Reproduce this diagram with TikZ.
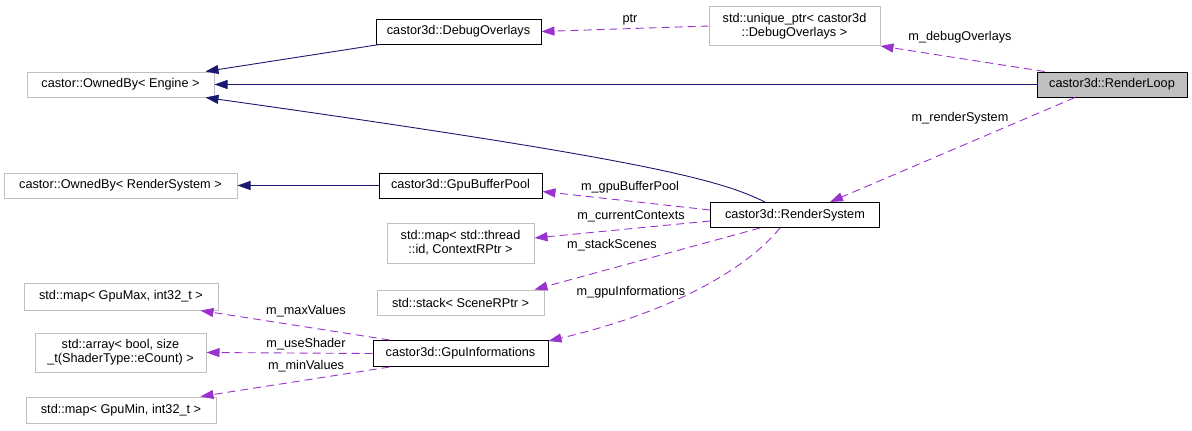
\documentclass[tikz,border=0pt]{standalone}
\usepackage{fontspec}
\setmainfont{Liberation Sans}
\usetikzlibrary{arrows.meta}

\begin{document}
\begin{tikzpicture}[x=1pt, y=-1pt,
  box/.style={draw=black, line width=1pt, fill=white, inner sep=0pt, align=center,
    font=\fontsize{12.7}{14}\selectfont},
  extbox/.style={box, draw=black!25},
  mainbox/.style={box, fill=black!25},
  inherit/.style={draw={rgb,255:red,25;green,25;blue,112}, line width=0.9pt,
    -{Triangle[length=13pt,width=9pt]}},
  usage/.style={draw={rgb,255:red,154;green,50;blue,205}, line width=0.9pt,
    dash pattern=on 8pt off 5pt, -{Triangle[length=13pt,width=9pt]}},
  lbl/.style={font=\fontsize{12.7}{14}\selectfont, inner sep=0pt}]
\useasboundingbox (0,0) rectangle (1192,431);

% classes
\node[box, minimum width=165pt, minimum height=25pt] (dbg) at (458.5,31.5) {castor3d::DebugOverlays};
\node[extbox, minimum width=171pt, minimum height=39pt] (uptr) at (794.5,26) {std::unique\_ptr< castor3d\\::DebugOverlays >};
\node[extbox, minimum width=187pt, minimum height=25pt] (ownEng) at (120.5,84.5) {castor::OwnedBy< Engine >};
\node[mainbox, minimum width=150pt, minimum height=25pt] (loop) at (1112,84.5) {castor3d::RenderLoop};
\node[extbox, minimum width=233pt, minimum height=25pt] (ownRS) at (120.5,185.5) {castor::OwnedBy< RenderSystem >};
\node[box, minimum width=163pt, minimum height=25pt] (pool) at (460.5,185.5) {castor3d::GpuBufferPool};
\node[box, minimum width=169pt, minimum height=25pt] (rsys) at (795,215) {castor3d::RenderSystem};
\node[extbox, minimum width=147pt, minimum height=40pt] (ctx) at (460.5,243) {std::map< std::thread\\::id, ContextRPtr >};
\node[extbox, minimum width=167pt, minimum height=25pt] (scenes) at (460.5,302.5) {std::stack< SceneRPtr >};
\node[extbox, minimum width=194pt, minimum height=27pt] (gmax) at (121,296.5) {std::map< GpuMax, int32\_t >};
\node[extbox, minimum width=171pt, minimum height=39pt] (arr) at (120.5,352.5) {std::array< bool, size\\\_t(ShaderType::eCount) >};
\node[box, minimum width=175pt, minimum height=26pt] (ginfo) at (460.5,353.5) {castor3d::GpuInformations};
\node[extbox, minimum width=190pt, minimum height=26pt] (gmin) at (121,410) {std::map< GpuMin, int32\_t >};

% inheritance
\draw[inherit] ([xshift=4pt]dbg.south west) -- ([xshift=-9pt]ownEng.north east);
\draw[inherit] (loop.west) -- (ownEng.east);
\draw[inherit] ([xshift=-30pt]rsys.north) .. controls (720,180) and (650,160) .. ([xshift=-9pt]ownEng.south east);
\draw[inherit] (pool.west) -- (ownRS.east);

% members
\draw[usage] (uptr.west) -- (dbg.east);
\node[lbl] (lptr) at (630,20) {ptr};
\draw[usage] ([xshift=8pt]loop.north west) -- (uptr.south east);
\node[lbl] (ldbg) at (960,37) {m\_debugOverlays};
\draw[usage] ([xshift=-37pt]loop.south) -- ([xshift=35pt]rsys.north);
\node[lbl] (lrs) at (960,118) {m\_renderSystem};
\draw[usage] ([yshift=5pt]rsys.west) -- ([yshift=-6pt]pool.east);
\node[lbl] (lpool) at (630,187) {m\_gpuBufferPool};
\draw[usage] ([yshift=-6pt]rsys.west) -- ([yshift=5pt]ctx.east);
\node[lbl] (lctx) at (631,216) {m\_currentContexts};
\draw[usage] ([xshift=-35pt]rsys.south) -- ([xshift=-10pt]scenes.north east);
\node[lbl] (lsc) at (612,245) {m\_stackScenes};
\draw[usage] ([xshift=-15pt]rsys.south) .. controls (750,265) and (680,310) .. ([yshift=-1pt]ginfo.north east);
\node[lbl] (lgi) at (631,292) {m\_gpuInformations};
\draw[usage] ([xshift=17pt]ginfo.north west) -- ([xshift=-18pt]gmax.south east);
\node[lbl] (lmax) at (306,311) {m\_maxValues};
\draw[usage] (ginfo.west) -- (arr.east);
\node[lbl] (luse) at (306,344) {m\_useShader};
\draw[usage] ([xshift=17pt]ginfo.south west) -- ([xshift=-16pt]gmin.north east);
\node[lbl] (lmin) at (306,366) {m\_minValues};
\end{tikzpicture}
\end{document}
